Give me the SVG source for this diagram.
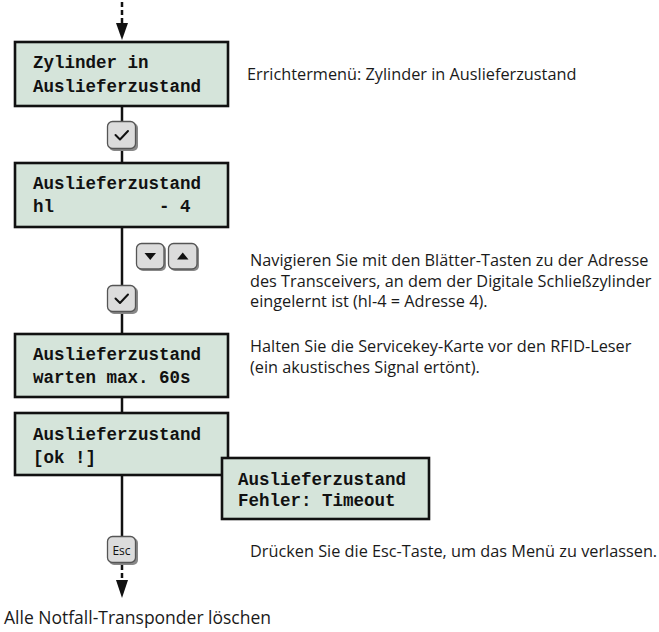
<svg xmlns="http://www.w3.org/2000/svg" width="659" height="632" viewBox="0 0 659 632">
<style>
.box{fill:#d5e4da;stroke:#111;stroke-width:2.6}
.mono{font-family:"Liberation Mono","Courier New",monospace;font-weight:bold;font-size:17.5px;fill:#111}
.txt{font-family:"Open Sans","Noto Sans",sans-serif;font-size:16.3px;fill:#1a1a1a}
.btn{fill:#dcdcdc;stroke:#555;stroke-width:1.3}
.line{stroke:#111;stroke-width:2.5;fill:none}
.dash{stroke:#111;stroke-width:2.5;fill:none;stroke-dasharray:5 3}
.ico{stroke:#111;stroke-width:2;fill:none;stroke-linecap:round;stroke-linejoin:round}
</style>
<rect width="659" height="632" fill="#fff"/>
<g id="connectors">
<line class="dash" x1="122" y1="2" x2="122" y2="24"/>
<polygon points="116,23 128,23 122,40" fill="#111"/>
<line class="line" x1="122" y1="106" x2="122" y2="163"/>
<line class="line" x1="122" y1="227" x2="122" y2="334"/>
<line class="line" x1="122" y1="397" x2="122" y2="413"/>
<line class="line" x1="122" y1="475" x2="122" y2="536"/>
<line class="dash" x1="122" y1="565" x2="122" y2="582"/>
<polygon points="116,580 128,580 122,598" fill="#111"/>
</g>
<g id="box1"><rect class="box" x="15" y="42" width="213" height="64"/>
<text class="mono" x="33" y="68">Zylinder in</text><text class="mono" x="33" y="92">Auslieferzustand</text></g>
<g id="btn-ok1"><rect x="109" y="123" width="29" height="28" rx="5" fill="#888"/><rect class="btn" x="107.5" y="121.5" width="28" height="27" rx="5"/><path class="ico" d="M115.5,135 L120,139.5 L128,131"/></g>
<g id="box2"><rect class="box" x="15" y="163" width="213" height="64"/>
<text class="mono" x="33" y="189">Auslieferzustand</text><text class="mono" x="33" y="212" xml:space="preserve">hl          - 4</text></g>
<g id="btn-down"><rect x="138" y="245" width="28" height="26" rx="5" fill="#888"/><rect class="btn" x="136.5" y="243.5" width="27.5" height="25.5" rx="5"/><polygon points="144.5,253 156,253 150.25,260" fill="#111"/></g>
<g id="btn-up"><rect x="170" y="245" width="29" height="26" rx="5" fill="#888"/><rect class="btn" x="168.5" y="243.5" width="28.5" height="25.5" rx="5"/><polygon points="177,259.5 188.5,259.5 182.75,252.5" fill="#111"/></g>
<g id="btn-ok2"><rect x="109" y="287" width="29" height="27" rx="5" fill="#888"/><rect class="btn" x="107.5" y="285.5" width="28" height="26" rx="5"/><path class="ico" d="M115.5,298.5 L120,303 L128,294.5"/></g>
<g id="box3"><rect class="box" x="15" y="334" width="213" height="63"/>
<text class="mono" x="33" y="360">Auslieferzustand</text><text class="mono" x="33" y="383">warten max. 60s</text></g>
<g id="box4"><rect class="box" x="15" y="413" width="213" height="62"/>
<text class="mono" x="33" y="440">Auslieferzustand</text><text class="mono" x="33" y="463">[ok !]</text></g>
<g id="box5"><rect class="box" x="222" y="458" width="207" height="61"/>
<text class="mono" x="238" y="485">Auslieferzustand</text><text class="mono" x="238" y="506">Fehler: Timeout</text></g>
<g id="btn-esc"><rect x="109" y="538" width="29" height="27" rx="5" fill="#888"/><rect class="btn" x="107.5" y="536.5" width="28" height="26" rx="5"/><text x="121.5" y="554.5" text-anchor="middle" font-family="Open Sans,Noto Sans,sans-serif" font-size="12" fill="#111">Esc</text></g>
<g id="labels">
<text class="txt" x="247" y="80">Errichtermenü: Zylinder in Auslieferzustand</text>
<text class="txt" x="250" y="266">Navigieren Sie mit den Blätter-Tasten zu der Adresse</text>
<text class="txt" x="250" y="287">des Transceivers, an dem der Digitale Schließzylinder</text>
<text class="txt" x="250" y="307">eingelernt ist (hl-4 = Adresse 4).</text>
<text class="txt" x="250" y="352">Halten Sie die Servicekey-Karte vor den RFID-Leser</text>
<text class="txt" x="250" y="373">(ein akustisches Signal ertönt).</text>
<text class="txt" x="250" y="557">Drücken Sie die Esc-Taste, um das Menü zu verlassen.</text>
<text class="txt" x="4" y="624" style="font-size:17.5px">Alle Notfall-Transponder löschen</text>
</g>
</svg>
